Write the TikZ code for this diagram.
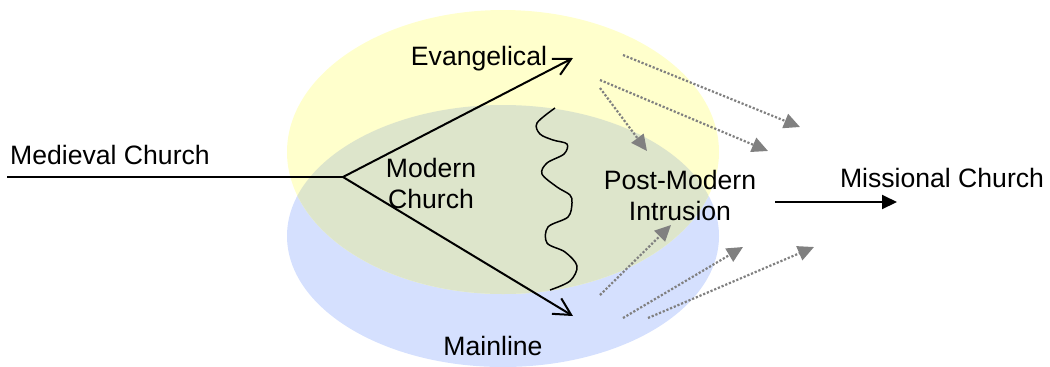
\documentclass[tikz,border=0pt]{standalone}
\usepackage{fontspec}
\setmainfont{Liberation Sans}
\usetikzlibrary{arrows.meta}

\definecolor{evyellow}{RGB}{255,255,204}
\definecolor{mlblue}{RGB}{213,224,254}
\definecolor{mixgreen}{RGB}{221,229,203}

\begin{document}
\begin{tikzpicture}[x = 0.5pt, y = -0.5pt,
  word/.style = {font = \fontsize{13.3}{15.5}\selectfont, inner sep = 0pt, align = center},
  edge/.style = {-{Straight Barb[length = 8.5pt, width = 9pt]}, line width = 1pt},
  push/.style = {-{Triangle[length = 7.5pt, width = 7pt]}, line width = 1pt},
  drift/.style = {-{Triangle[length = 8pt, width = 7.5pt]}, gray, line width = 1.1pt,
    dash pattern = on 1.1pt off 0.9pt},
  wave/.style = {line width = 0.75pt}]

  \useasboundingbox (0,0) rectangle (1050,366);

  \fill[mlblue] (503,236) ellipse [x radius = 108pt, y radius = 65.5pt];
  \fill[evyellow] (503,152) ellipse [x radius = 108pt, y radius = 71pt];
  \begin{scope}
    \clip (503,152) ellipse [x radius = 108pt, y radius = 71pt];
    \fill[mixgreen] (503,236) ellipse [x radius = 108pt, y radius = 65.5pt];
  \end{scope}

  \node[word] (medieval) at (110,155) {Medieval Church};
  \node[word] (evangelical) at (479,59) {Evangelical};
  \node[word] (modern) at (431,183) {Modern\\Church};
  \node[word] (mainline) at (493,346) {Mainline};
  \node[word] (postmodern) at (680,195) {Post-Modern\\Intrusion};
  \node[word] (missional) at (942,178) {Missional Church};

  \coordinate (start) at (7,177);
  \coordinate (fork) at (343,177);
  \coordinate (evtip) at (573,58);
  \coordinate (mltip) at (573,316);
  \coordinate (pmout) at (775,202);
  \coordinate (mctip) at (897,202);

  \draw[line width = 1pt] (start) -- (fork);
  \draw[edge] (fork) -- (evtip);
  \draw[edge] (fork) -- (mltip);
  \draw[push] (pmout) -- (mctip);

  \draw[wave] plot[smooth, tension = 0.55] coordinates {(555,108) (537,123) (540,134)
    (553,140) (567,144) (564,154) (547,163) (542,174) (557,187) (570,195) (572,203)
    (568,217) (548,227) (547,243) (565,252) (577,266) (570,281) (550,290)};

  \coordinate (ev1) at (623,55);
  \coordinate (ev2) at (600,80);
  \coordinate (ev3) at (600,88);
  \coordinate (ml1) at (600,295);
  \coordinate (ml2) at (623,318);
  \coordinate (ml3) at (648,318);
  \coordinate (out1) at (800,127);
  \coordinate (out2) at (768,151);
  \coordinate (in1) at (647,151);
  \coordinate (in2) at (671,225);
  \coordinate (out3) at (743,247);
  \coordinate (out4) at (814,247);

  \draw[drift] (ev1) -- (out1);
  \draw[drift] (ev2) -- (out2);
  \draw[drift] (ev3) -- (in1);
  \draw[drift] (ml1) -- (in2);
  \draw[drift] (ml2) -- (out3);
  \draw[drift] (ml3) -- (out4);
\end{tikzpicture}
\end{document}
